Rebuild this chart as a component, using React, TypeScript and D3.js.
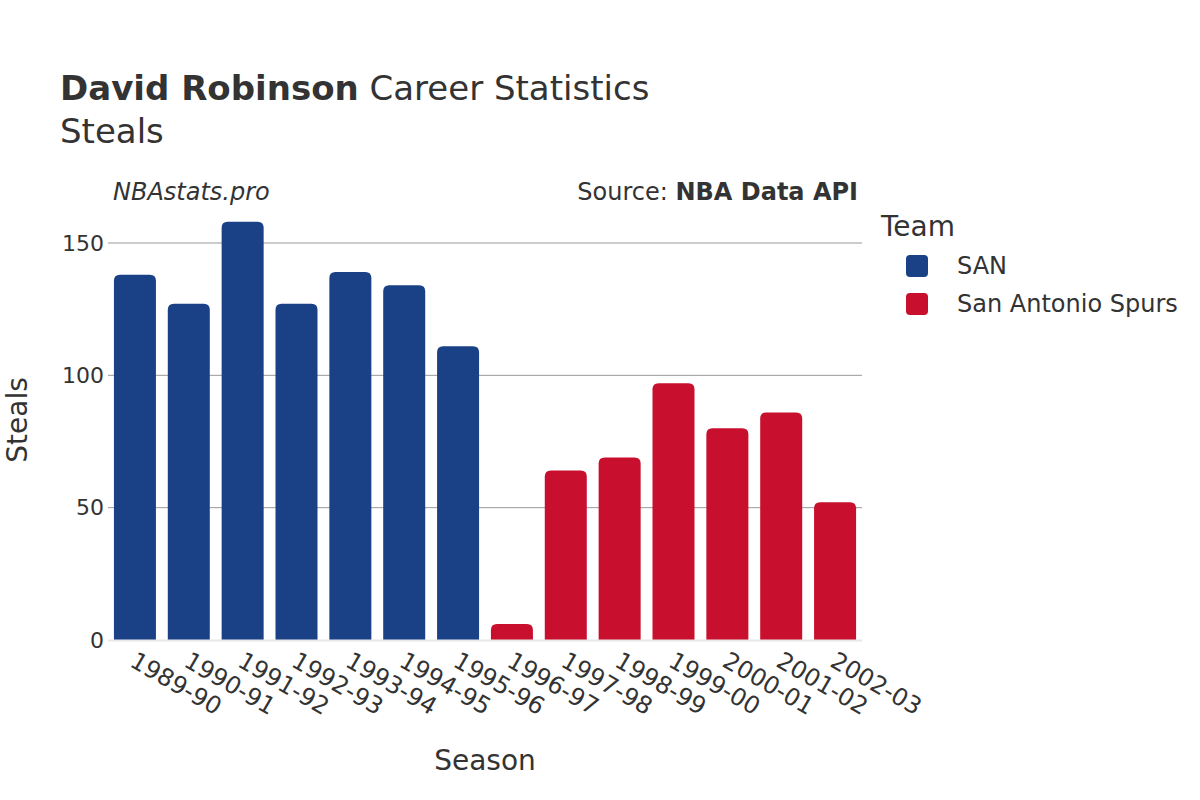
import React from 'react';
import * as d3 from 'd3';

const seasons = ['1989-90', '1990-91', '1991-92', '1992-93', '1993-94', '1994-95', '1995-96',
  '1996-97', '1997-98', '1998-99', '1999-00', '2000-01', '2001-02', '2002-03'];
const steals = [138, 127, 158, 127, 139, 134, 111, 6, 64, 69, 97, 80, 86, 52];
const teams = ['SAN', 'SAN', 'SAN', 'SAN', 'SAN', 'SAN', 'SAN',
  'San Antonio Spurs', 'San Antonio Spurs', 'San Antonio Spurs', 'San Antonio Spurs',
  'San Antonio Spurs', 'San Antonio Spurs', 'San Antonio Spurs'];
const teamNames = ['SAN', 'San Antonio Spurs'];
const teamColors = ['#1a4086', '#c8102e'];
const yTicks = [0, 50, 100, 150];

const W = 1200;
const H = 800;
const left = 108;
const right = 862;
const top = 190;
const bottom = 640;
const font = '"DejaVu Sans", sans-serif';
const ink = '#333';

// bar with rounded top corners only
function barPath(x: number, y: number, w: number, h: number, r: number) {
  const rr = Math.min(r, h / 2, w / 2);
  return `M${x},${y + h}V${y + rr}Q${x},${y} ${x + rr},${y}H${x + w - rr}Q${x + w},${y} ${x + w},${y + rr}V${y + h}Z`;
}

export default function App() {
  const x = d3.scaleBand<string>().domain(seasons).range([left, right]).paddingInner(0.22).paddingOuter(0.11);
  const y = d3.scaleLinear().domain([0, 170]).range([bottom, bottom - 170 * (397 / 150)]);
  const color = d3.scaleOrdinal<string, string>().domain(teamNames).range(teamColors);

  return (
    <svg width={W} height={H} style={{ position: 'absolute', left: 0, top: 0 }} fontFamily={font}>
      <rect width={W} height={H} fill="#fff" />
      <text x={60} y={100} fontSize={34} fill={ink}>
        <tspan fontWeight="bold">David Robinson</tspan> Career Statistics
      </text>
      <text x={60} y={143} fontSize={34} fill={ink}>Steals</text>
      <text x={113} y={200} fontSize={24} fontStyle="italic" fill={ink}>NBAstats.pro</text>
      <text x={858} y={200} fontSize={24} textAnchor="end" fill={ink}>
        Source: <tspan fontWeight="bold">NBA Data API</tspan>
      </text>

      {yTicks.map((t) => (
        <g key={t}>
          {t > 0 && <line x1={left} x2={right} y1={y(t)} y2={y(t)} stroke="#999" strokeWidth={1} />}
          <text x={104} y={y(t)} dy="0.35em" fontSize={22} textAnchor="end" fill={ink}>{t}</text>
        </g>
      ))}

      {seasons.map((s, i) => {
        const bx = x(s)!;
        const by = y(steals[i]);
        return (
          <path key={s} d={barPath(bx, by, x.bandwidth(), bottom - by, 6)} fill={color(teams[i])} />
        );
      })}
      <line x1={left} x2={right} y1={bottom + 0.5} y2={bottom + 0.5} stroke="#e8e8e8" strokeWidth={2} />

      {seasons.map((s) => {
        const cx = x(s)! + x.bandwidth() / 2;
        return (
          <text key={s} transform={`translate(${cx + 2},${bottom + 11}) rotate(30)`} fontSize={24}
            fill={ink} dy="0.7em">{s}</text>
        );
      })}

      <text x={485} y={770} fontSize={28} textAnchor="middle" fill={ink}>Season</text>
      <text transform={`translate(27,${(top + bottom) / 2 + 5}) rotate(-90)`} fontSize={28}
        textAnchor="middle" fill={ink}>Steals</text>

      <text x={881} y={236} fontSize={28} fill={ink}>Team</text>
      {teamNames.map((t, i) => (
        <g key={t} transform={`translate(0,${i * 38})`}>
          <rect x={906} y={255} width={22} height={22} rx={4} fill={teamColors[i]} />
          <text x={957} y={266} dy="0.35em" fontSize={24} fill={ink}>{t}</text>
        </g>
      ))}
    </svg>
  );
}
